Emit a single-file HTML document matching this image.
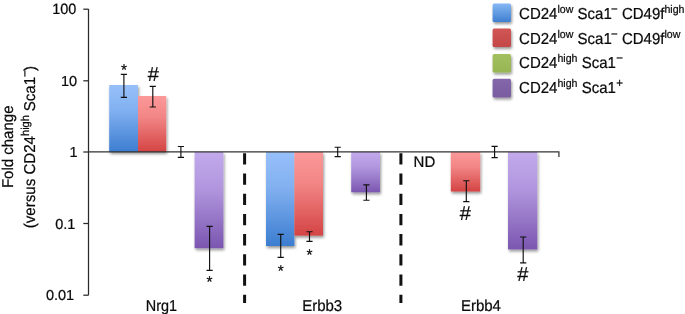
<!DOCTYPE html>
<html><head><meta charset="utf-8"><title>Fold change chart</title>
<style>
html,body{margin:0;padding:0;background:#fff;}
body{width:685px;height:314px;overflow:hidden;}
svg{display:block;}
text{font-family:"Liberation Sans",Arial,Helvetica,sans-serif;fill:#0a0a0a;stroke:#0a0a0a;stroke-width:0.22px;text-rendering:geometricPrecision;}
</style></head><body>
<svg width="685" height="314" viewBox="0 0 685 314">
<defs>
<linearGradient id="gb" x1="0" y1="0" x2="0" y2="1"><stop offset="0" stop-color="#97c0fa"/><stop offset="0.38" stop-color="#81b0f0"/><stop offset="1" stop-color="#3c7dd0"/></linearGradient>
<linearGradient id="gr" x1="0" y1="0" x2="0" y2="1"><stop offset="0" stop-color="#fc9999"/><stop offset="0.38" stop-color="#f28585"/><stop offset="1" stop-color="#d44444"/></linearGradient>
<linearGradient id="gp" x1="0" y1="0" x2="0" y2="1"><stop offset="0" stop-color="#c2aaec"/><stop offset="0.38" stop-color="#b196de"/><stop offset="1" stop-color="#7b56b0"/></linearGradient>
<linearGradient id="lb" x1="0" y1="0" x2="0" y2="1"><stop offset="0" stop-color="#86b8f4"/><stop offset="1" stop-color="#3f7fd0"/></linearGradient>
<linearGradient id="lr" x1="0" y1="0" x2="0" y2="1"><stop offset="0" stop-color="#d15555"/><stop offset="1" stop-color="#c54848"/></linearGradient>
<linearGradient id="lg" x1="0" y1="0" x2="0" y2="1"><stop offset="0" stop-color="#a3c05f"/><stop offset="1" stop-color="#97b653"/></linearGradient>
<linearGradient id="lp" x1="0" y1="0" x2="0" y2="1"><stop offset="0" stop-color="#8467aa"/><stop offset="1" stop-color="#795b9f"/></linearGradient>
<filter id="sh" x="-30%" y="-30%" width="160%" height="160%"><feGaussianBlur in="SourceAlpha" stdDeviation="1.4"/><feOffset dx="1.0" dy="1.8" result="o"/><feComponentTransfer><feFuncA type="linear" slope="0.42"/></feComponentTransfer><feMerge><feMergeNode/><feMergeNode in="SourceGraphic"/></feMerge></filter>
</defs>
<rect width="685" height="314" fill="#fff"/>

<g filter="url(#sh)">
<rect x="109.2" y="85.0" width="28.8" height="67.0" fill="url(#gb)"/>
<rect x="138.0" y="96.0" width="28.2" height="56.0" fill="url(#gr)"/>
<rect x="194.6" y="152.0" width="28.8" height="96.2" fill="url(#gp)"/>
<rect x="266.0" y="152.0" width="28.4" height="94.0" fill="url(#gb)"/>
<rect x="294.4" y="152.0" width="28.6" height="83.6" fill="url(#gr)"/>
<rect x="351.2" y="152.0" width="28.8" height="40.3" fill="url(#gp)"/>
<rect x="450.8" y="152.0" width="29.4" height="39.5" fill="url(#gr)"/>
<rect x="508.0" y="152.0" width="29.3" height="97.4" fill="url(#gp)"/>
</g>
<g stroke="#2a2a2a" stroke-width="1.25" fill="none">
<path d="M88.5 9 V295.2"/>
<path d="M83.3 9.2 H88.5"/>
<path d="M83.3 80.8 H88.5"/>
<path d="M83.3 152.0 H88.5"/>
<path d="M83.3 223.5 H88.5"/>
<path d="M83.3 295.2 H88.5"/>
<path d="M88.5 151.95 H558.9 V157.1" stroke-width="1.25" stroke="#333"/>
</g>
<path d="M244.6 153.3 V303" stroke="#111" stroke-width="3.0" stroke-dasharray="11.3 8.9" fill="none"/>
<path d="M400.9 153.3 V303" stroke="#111" stroke-width="3.0" stroke-dasharray="11.3 8.9" fill="none"/>
<g stroke="#111" stroke-width="1.15" fill="none">
<path d="M120.8 74.3 H127.0 M123.9 74.3 V97.3 M120.8 97.3 H127.0"/>
<path d="M149.7 86.3 H155.9 M152.8 86.3 V107.0 M149.7 107.0 H155.9"/>
<path d="M177.8 146.5 H184.0 M180.9 146.5 V157.3 M177.8 157.3 H184.0"/>
<path d="M206.5 226.3 H212.7 M209.6 226.3 V270.4 M206.5 270.4 H212.7"/>
<path d="M277.6 234.4 H283.8 M280.7 234.4 V257.4 M277.6 257.4 H283.8"/>
<path d="M306.4 231.7 H312.6 M309.5 231.7 V241.4 M306.4 241.4 H312.6"/>
<path d="M334.6 147.2 H340.8 M337.7 147.2 V156.6 M334.6 156.6 H340.8"/>
<path d="M363.3 184.9 H369.5 M366.4 184.9 V200.2 M363.3 200.2 H369.5"/>
<path d="M463.2 180.7 H469.4 M466.3 180.7 V201.6 M463.2 201.6 H469.4"/>
<path d="M491.5 146.3 H497.7 M494.6 146.3 V157.6 M491.5 157.6 H497.7"/>
<path d="M520.1 237.0 H526.3 M523.2 237.0 V262.8 M520.1 262.8 H526.3"/>
</g>
<g opacity="0.999">
<text transform="translate(76.4,14.4) scale(1,1.03)" font-size="14.5" text-anchor="end">100</text>
<text transform="translate(77.2,86.0) scale(1,1.0)" font-size="14.5" text-anchor="end">10</text>
<text transform="translate(77.6,157.3) scale(1,1.0)" font-size="14.5" text-anchor="end">1</text>
<text transform="translate(75.4,228.7) scale(1,1.0)" font-size="14.5" text-anchor="end">0.1</text>
<text transform="translate(74.2,300.1) scale(1,1.0)" font-size="14.5" text-anchor="end">0.01</text>
<text transform="translate(161.4,310.55) scale(1,1.09)" font-size="14.45" text-anchor="middle">Nrg1</text>
<text transform="translate(322.2,310.55) scale(1,1.05)" font-size="15" text-anchor="middle">Erbb3</text>
<text transform="translate(480.9,310.55) scale(1,1.05)" font-size="15" text-anchor="middle">Erbb4</text>
<text transform="translate(413.6,167.3) scale(1,1.02)" font-size="15" text-anchor="start">ND</text>
<text x="124.0" y="75.3" font-size="15.5" text-anchor="middle">*</text>
<text x="153.4" y="80.7" font-size="20" text-anchor="middle">#</text>
<text x="209.6" y="286.7" font-size="15.5" text-anchor="middle">*</text>
<text x="280.7" y="275.7" font-size="15.5" text-anchor="middle">*</text>
<text x="309.5" y="260.1" font-size="15.5" text-anchor="middle">*</text>
<text x="465.4" y="220.0" font-size="20" text-anchor="middle">#</text>
<text x="522.9" y="280.7" font-size="20" text-anchor="middle">#</text>
<text transform="translate(12.6,146.8) rotate(-90) scale(1,1.04)" font-size="15" text-anchor="middle">Fold change</text>
<text transform="translate(34.8,228.25) rotate(-90) scale(1,1.04)" font-size="15.1" text-anchor="start">(versus CD24<tspan font-size="11" dy="-6">high</tspan><tspan dy="6" dx="-0.3"> Sca1</tspan><tspan font-size="12" dy="-6">−</tspan><tspan dy="6" dx="-1.0">)</tspan></text>
<g filter="url(#sh)">
<rect x="492.6" y="3.4" width="18.4" height="18.6" rx="1.5" fill="url(#lb)"/>
<rect x="492.6" y="28.5" width="18.4" height="18.6" rx="1.5" fill="url(#lr)"/>
<rect x="492.6" y="53.9" width="18.4" height="18.6" rx="1.5" fill="url(#lg)"/>
<rect x="492.6" y="78.8" width="18.4" height="18.6" rx="1.5" fill="url(#lp)"/>
</g>
<text transform="translate(519.1,19.3) scale(1,1.06)" font-size="15">CD24<tspan font-size="10.6" dy="-6">low</tspan><tspan dy="6"> Sca1</tspan><tspan font-size="11.5" dy="-6" dx="-0.7">−</tspan><tspan dy="6"> CD49f</tspan><tspan font-size="10.6" dy="-6">high</tspan></text>
<text transform="translate(519.1,44.1) scale(1,1.06)" font-size="15">CD24<tspan font-size="10.6" dy="-6">low</tspan><tspan dy="6"> Sca1</tspan><tspan font-size="11.5" dy="-6" dx="-0.7">−</tspan><tspan dy="6"> CD49f</tspan><tspan font-size="10.6" dy="-6">low</tspan></text>
<text transform="translate(519.1,68.3) scale(1,1.06)" font-size="15">CD24<tspan font-size="10.6" dy="-6">high</tspan><tspan dy="6"> Sca1</tspan><tspan font-size="11.5" dy="-6" dx="0.5">−</tspan></text>
<text transform="translate(519.1,93.1) scale(1,1.06)" font-size="15">CD24<tspan font-size="10.6" dy="-6">high</tspan><tspan dy="6"> Sca1</tspan><tspan font-size="11.5" dy="-6" dx="0.5">+</tspan></text>
</g>
</svg></body></html>
